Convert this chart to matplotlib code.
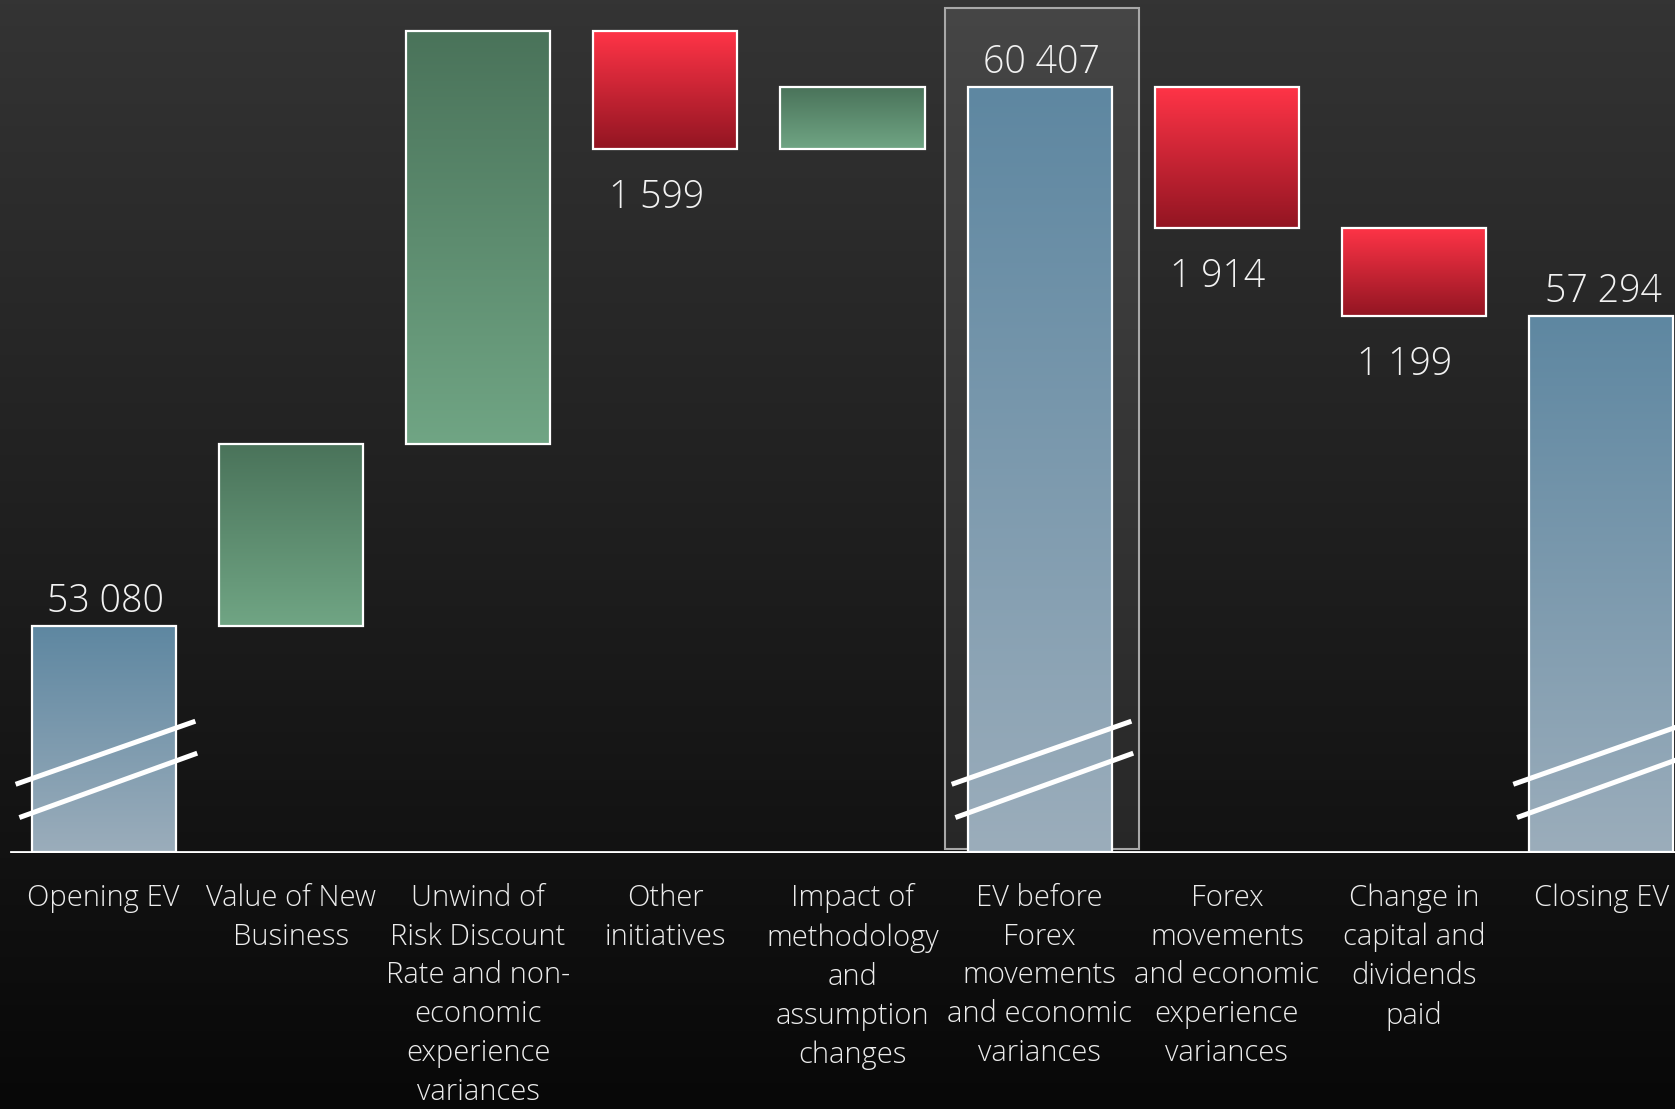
import numpy as np
import matplotlib
matplotlib.use("Agg")
import matplotlib.pyplot as plt
import matplotlib.transforms as mtransforms
from matplotlib.colors import LinearSegmentedColormap

plt.rcParams['font.family'] = ['Open Sans', 'DejaVu Sans']

# datos del waterfall
categorias = ["Opening EV", "Value of New\nBusiness",
              "Unwind of\nRisk Discount\nRate and non-\neconomic\nexperience\nvariances",
              "Other\ninitiatives", "Impact of\nmethodology\nand\nassumption\nchanges",
              "EV before\nForex\nmovements\nand economic\nvariances",
              "Forex\nmovements\nand economic\nexperience\nvariances",
              "Change in\ncapital and\ndividends\npaid", "Closing EV"]
valores = [53080, 2480, 5610, -1599, 836, 60407, -1914, -1199, 57294]
es_total = [True, False, False, False, False, True, False, False, True]
etiquetas = ["53 080", "", "", "1 599", "", "60 407", "1 914", "1 199", "57 294"]
y_min, y_max = 50000, 61597

# calcular base y tope de cada barra
bases, topes = [], []
acumulado = 0
for v, t in zip(valores, es_total):
    if t:
        bases.append(y_min)
        topes.append(v)
        acumulado = v
    else:
        bases.append(min(acumulado, acumulado + v))
        topes.append(max(acumulado, acumulado + v))
        acumulado += v

W, H = 1675, 1109
fig = plt.figure(figsize=(W / 100, H / 100), dpi=100)

# fondo con degradado
ax_bg = fig.add_axes([0, 0, 1, 1], zorder=0)
grad = np.linspace(0, 1, 256).reshape(-1, 1)
cmap_bg = LinearSegmentedColormap.from_list("bg", ["#343434", "#080808"])
ax_bg.imshow(grad, aspect='auto', cmap=cmap_bg, extent=(0, 1, 0, 1))
ax_bg.axis('off')

base_frac = 1 - 852.5 / H
ax = fig.add_axes([0, base_frac, 1, 1 - base_frac], zorder=1)
ax.patch.set_alpha(0)

x = np.arange(len(categorias))
ancho = 0.77

cm_azul = LinearSegmentedColormap.from_list("azul", ["#5e87a1", "#9badbb"])
cm_verde = LinearSegmentedColormap.from_list("verde", ["#4a735a", "#70a584"])
cm_rojo = LinearSegmentedColormap.from_list("rojo", ["#ff3447", "#921522"])

blend = mtransforms.blended_transform_factory(ax.transData, ax.transAxes)

# recuadro resaltado
i_dest = 5
ax.add_patch(plt.Rectangle((i_dest - 0.508, 0.004), 1.039, 0.987, transform=blend,
                           facecolor=(1, 1, 1, 0.09), edgecolor="#a8a8a8", lw=1.5, zorder=1))

for i in range(len(categorias)):
    if es_total[i]:
        cm = cm_azul
    elif valores[i] > 0:
        cm = cm_verde
    else:
        cm = cm_rojo
    ax.imshow(grad, aspect='auto', cmap=cm, zorder=2,
              extent=(x[i] - ancho / 2, x[i] + ancho / 2, bases[i], topes[i]))
ax.bar(x, np.array(topes) - np.array(bases), bottom=bases, width=ancho,
       facecolor='none', edgecolor='white', linewidth=1.6, zorder=3)

for i in range(len(categorias)):
    if etiquetas[i] == "":
        continue
    if valores[i] > 0:
        ax.annotate(etiquetas[i], (x[i], topes[i]), xytext=(1.5, 4), textcoords='offset points',
                    ha='center', va='bottom', fontsize=27, color='#f2f2f2',
                    fontweight='light', zorder=4)
    else:
        ax.annotate(etiquetas[i], (x[i], bases[i]), xytext=(-6.5, -21), textcoords='offset points',
                    ha='center', va='top', fontsize=27, color='#f2f2f2',
                    fontweight='light', zorder=4)

# marcas de eje cortado
for i in range(len(categorias)):
    if es_total[i]:
        ax.plot([x[i] - 0.47, x[i] + 0.49], [0.080, 0.154], transform=blend,
                color='white', lw=3.6, solid_capstyle='butt', zorder=5, clip_on=False)
        ax.plot([x[i] - 0.45, x[i] + 0.50], [0.041, 0.1165], transform=blend,
                color='white', lw=3.6, solid_capstyle='butt', zorder=5, clip_on=False)

ax.axhline(y_min, xmin=10 / 1568, xmax=1, color='white', lw=2, zorder=6)

ax.set_xlim(-97 / 175.25, (1568 - 97) / 175.25)
ax.set_ylim(y_min, y_max)
ax.set_xticks(x)
ax.set_xticklabels(categorias, fontsize=21, color='#ececec', fontweight='light',
                   linespacing=1.42)
ax.tick_params(axis='x', length=0, pad=22)
ax.set_yticks([])
for s in ax.spines.values():
    s.set_visible(False)

fig.savefig("out.png", dpi=100)
